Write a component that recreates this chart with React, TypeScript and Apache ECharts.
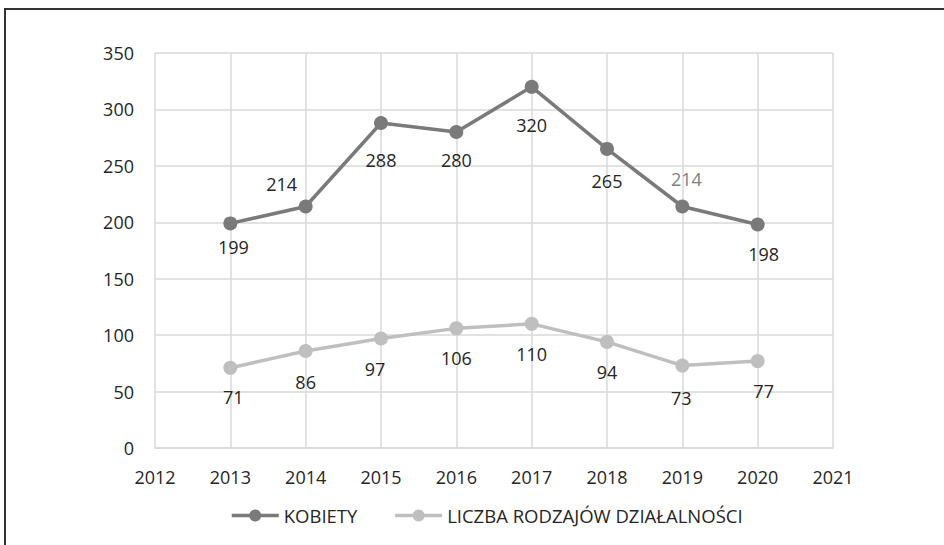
import React, { useEffect, useRef } from "react";
import * as echarts from "echarts";

const years = [2013, 2014, 2015, 2016, 2017, 2018, 2019, 2020];
const kobiety = [199, 214, 288, 280, 320, 265, 214, 198];
const liczba = [71, 86, 97, 106, 110, 94, 73, 77];
const seriesNames = ["KOBIETY", "LICZBA RODZAJÓW DZIAŁALNOŚCI"];

// label placement (dx, dy from the point)
const kobietyLabelOffsets = [
  [3, 24], [-24, -22], [0, 37], [0, 28], [0, 38], [0, 32], [4, -27], [6, 29],
];
const liczbaLabelOffsets = [
  [3, 29], [0, 31], [-6, 30], [0, 30], [0, 30], [0, 30], [-1, 32], [6, 30],
];

const FONT = "'Open Sans', 'Noto Sans', sans-serif";
const TEXT = "#262626";

export default function App() {
  const ref = useRef<HTMLDivElement>(null);
  useEffect(() => {
    if (!ref.current) return;
    const chart = echarts.init(ref.current, null, { renderer: "svg" });
    const mk = (vals: number[], offs: number[][], special?: number) =>
      vals.map((v, i) => ({
        value: [years[i], v],
        label: {
          offset: offs[i],
          color: special === i ? "#7f7f7f" : TEXT,
        },
      }));
    chart.setOption({
      animation: false,
      backgroundColor: "#ffffff",
      textStyle: { fontFamily: FONT },
      graphic: [
        {
          type: "rect",
          shape: { x: 5, y: 9, width: 1200, height: 900 },
          style: { fill: "none", stroke: "#333333", lineWidth: 2 },
          silent: true,
        },
      ],
      grid: { left: 155, right: 111, top: 53, bottom: 97 },
      legend: {
        left: 230,
        top: 506,
        padding: 0,
        itemWidth: 47,
        itemHeight: 15,
        itemGap: 36,
        lineStyle: { width: 3.5 },
        textStyle: { fontFamily: FONT, fontSize: 18.5, color: TEXT },
        data: seriesNames,
      },
      xAxis: {
        type: "value",
        min: 2012,
        max: 2021,
        interval: 1,
        axisLine: { show: true, lineStyle: { color: "#d9d9d9", width: 1.5 } },
        axisTick: { show: false },
        splitLine: { show: true, lineStyle: { color: "#d9d9d9", width: 1.5 } },
        axisLabel: {
          formatter: (v: number) => String(v),
          fontFamily: FONT,
          fontSize: 18,
          color: TEXT,
          margin: 20,
        },
      },
      yAxis: {
        type: "value",
        min: 0,
        max: 350,
        interval: 50,
        axisLine: { show: false },
        axisTick: { show: false },
        splitLine: { show: true, lineStyle: { color: "#d9d9d9", width: 1.5 } },
        axisLabel: {
          fontFamily: FONT,
          fontSize: 18,
          color: TEXT,
          margin: 21,
        },
      },
      series: [
        {
          name: seriesNames[0],
          type: "line",
          data: mk(kobiety, kobietyLabelOffsets, 6),
          symbol: "circle",
          symbolSize: 14,
          lineStyle: { color: "#7a7a7a", width: 3.5 },
          itemStyle: { color: "#7a7a7a" },
          label: {
            show: true,
            position: "inside",
            fontFamily: FONT,
            fontSize: 18,
            formatter: (p: any) => String(p.value[1]),
          },
          z: 3,
        },
        {
          name: seriesNames[1],
          type: "line",
          data: mk(liczba, liczbaLabelOffsets),
          symbol: "circle",
          symbolSize: 14,
          lineStyle: { color: "#bfbfbf", width: 3.5 },
          itemStyle: { color: "#bfbfbf" },
          label: {
            show: true,
            position: "inside",
            fontFamily: FONT,
            fontSize: 18,
            formatter: (p: any) => String(p.value[1]),
          },
          z: 2,
        },
      ],
    });
    return () => chart.dispose();
  }, []);
  return (
    <div
      ref={ref}
      style={{ position: "fixed", left: 0, top: 0, width: 944, height: 545 }}
    />
  );
}
